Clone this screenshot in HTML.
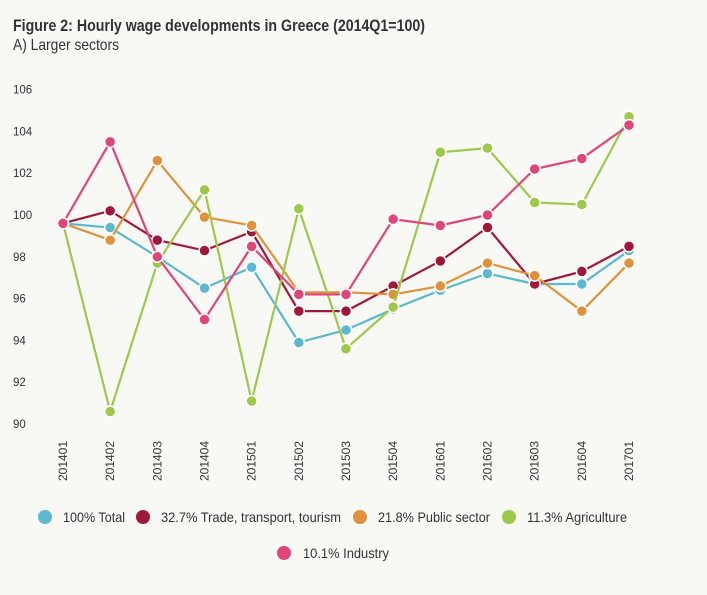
<!DOCTYPE html>
<html><head><meta charset="utf-8"><style>
body{margin:0;background:#f8f8f5;}
#wrap{position:relative;width:707px;height:595px;background:#f8f8f5;overflow:hidden;font-family:"Liberation Sans",sans-serif;color:#333;}
</style></head><body>
<div id="wrap">
<svg id="svg" width="707" height="595" style="position:absolute;left:0;top:0">
<text x="13" y="31" font-size="17" font-weight="bold" fill="#333" textLength="412" lengthAdjust="spacingAndGlyphs" font-family="Liberation Sans, sans-serif">Figure 2: Hourly wage developments in Greece (2014Q1=100)</text>
<text x="13" y="50" font-size="16" fill="#333" textLength="106" lengthAdjust="spacingAndGlyphs" font-family="Liberation Sans, sans-serif">A) Larger sectors</text>
</svg>
</div>
<script>
const categories=["2014Q1","2014Q2","2014Q3","2014Q4","2015Q1","2015Q2","2015Q3","2015Q4","2016Q1","2016Q2","2016Q3","2016Q4","2017Q1"];
const yTicks=[90,92,94,96,98,100,102,104,106];
const totalVals=[99.6,99.4,98.0,96.5,97.5,93.9,94.5,95.5,96.4,97.2,96.7,96.7,98.3];
const tradeVals=[99.6,100.2,98.8,98.3,99.2,95.4,95.4,96.6,97.8,99.4,96.7,97.3,98.5];
const publicVals=[99.6,98.8,102.6,99.9,99.5,96.3,96.3,96.2,96.6,97.7,97.1,95.4,97.7];
const agriVals=[99.6,90.6,97.7,101.2,91.1,100.3,93.6,95.6,103.0,103.2,100.6,100.5,104.7];
const industryVals=[99.6,103.5,98.0,95.0,98.5,96.2,96.2,99.8,99.5,100.0,102.2,102.7,104.3];
const seriesNames=["100% Total","32.7% Trade, transport, tourism","21.8% Public sector","11.3% Agriculture","10.1% Industry"];
const NS="http://www.w3.org/2000/svg";
const svg=document.getElementById('svg');
const X=i=>63+i*(629-63)/(categories.length-1);
const Y=v=>215-(v-100)*20.9;
const FF='Liberation Sans, sans-serif';
function mk(t,a){const e=document.createElementNS(NS,t);for(const k in a)e.setAttribute(k,a[k]);svg.appendChild(e);return e;}
yTicks.forEach(v=>{const t=mk('text',{x:13,y:Y(v)+4,'font-size':11.5,fill:'#333','font-family':FF});t.textContent=v;

});
categories.forEach((c,i)=>{const x=X(i)+4,y=481;const t=mk('text',{x:x,y:y,'font-size':12,fill:'#333',transform:`rotate(-90 ${x} ${y})`,'font-family':FF,textLength:40,lengthAdjust:'spacingAndGlyphs'});t.textContent=c.replace('Q','0');

});
const series=[[totalVals,'#5bb8cf','total'],[tradeVals,'#a0173a','trade'],[publicVals,'#e0913a','public'],[agriVals,'#9dc84a','agriculture'],[industryVals,'#e0457a','industry']];
series.forEach(([vals,col,nm])=>{
const p=mk('polyline',{points:vals.map((v,i)=>X(i)+','+Y(v)).join(' '),fill:'none',stroke:col,'stroke-width':2.2});


vals.forEach((v,i)=>{const c=mk('circle',{cx:X(i),cy:Y(v),r:5.5,fill:col,stroke:'#fff','stroke-width':1.5});

});
});
const leg=[[45,517,63,62],[143,517,161,180],[360,517,378,112],[509,517,527,100],[284,553,303,86]];
leg.forEach((l,i)=>{const c=mk('circle',{cx:l[0],cy:l[1],r:7,fill:series[i][1]});


const t=mk('text',{x:l[2],y:l[1]+5,'font-size':14,fill:'#333','font-family':FF,textLength:l[3],lengthAdjust:'spacingAndGlyphs'});t.textContent=seriesNames[i];

});
</script>
</body></html>
